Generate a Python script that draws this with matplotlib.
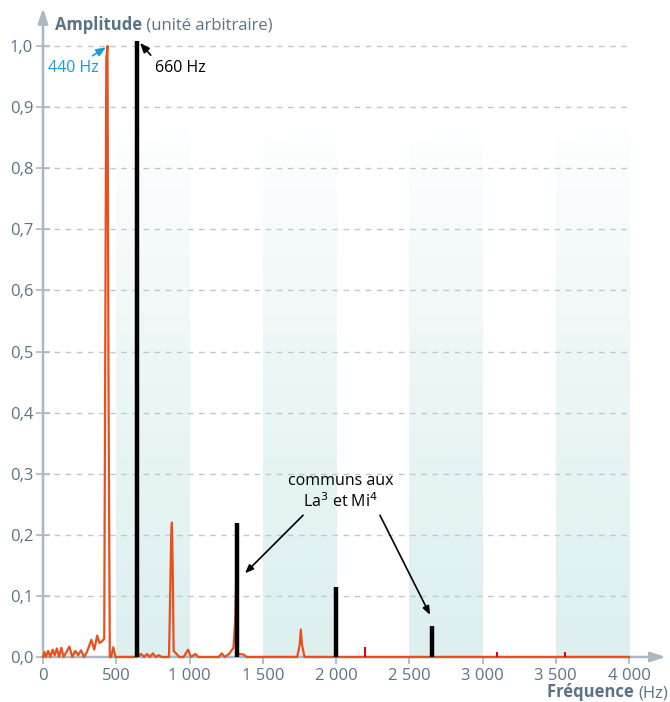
import numpy as np
import matplotlib
matplotlib.use("Agg")
import matplotlib.pyplot as plt

plt.rcParams['font.family'] = ['Open Sans', 'DejaVu Sans']

# spectre du La3 (courbe orange)
spec_freq = [0, 10, 20, 35, 50, 65, 80, 95, 110, 125, 140, 160, 180, 200, 220, 240,
             260, 280, 300, 330, 350, 370, 385, 400, 418, 425, 432, 440, 448, 456,
             465, 480, 495, 640, 670, 690, 710, 730, 750, 770, 790, 810, 860, 868,
             875, 880, 885, 892, 900, 930, 960, 990, 1010, 1040, 1060, 1200, 1220,
             1240, 1270, 1300, 1312, 1318, 1322, 1330, 1370, 1390, 1735, 1752, 1760,
             1768, 1785, 4000]
spec_amp = [0, 0.008, 0, 0.01, 0, 0.012, 0.003, 0.014, 0, 0.015, 0, 0.008, 0.017, 0,
            0.01, 0.003, 0.011, 0, 0.008, 0.028, 0.012, 0.035, 0.023, 0.025, 0.03,
            0.5, 0.98, 1.0, 0.4, 0.0, 0, 0.016, 0, 0, 0.005, 0, 0.005, 0, 0.006, 0,
            0.003, 0, 0, 0.1, 0.2, 0.22, 0.15, 0.01, 0.008, 0, 0, 0.012, 0, 0.005, 0,
            0, 0.006, 0, 0.005, 0.015, 0.06, 0.12, 0.08, 0.005, 0.004, 0, 0, 0.02,
            0.045, 0.02, 0, 0]

# harmoniques du Mi4 (barres noires)
bar_freq = [641, 1324, 2000, 2655]
bar_amp = [1.008, 0.22, 0.115, 0.05]

# petites raies rouges
red_freq = [2200, 3100, 3560]
red_amp = [0.017, 0.008, 0.008]

band_starts = [500, 1500, 2500, 3500]
band_width = 500

x_ticks = [0, 500, 1000, 1500, 2000, 2500, 3000, 3500, 4000]
x_labels = ["0", "500", "1 000", "1 500", "2 000", "2 500", "3 000", "3 500", "4 000"]
y_ticks = [0, 0.1, 0.2, 0.3, 0.4, 0.5, 0.6, 0.7, 0.8, 0.9, 1.0]
y_labels = ["0,0", "0,1", "0,2", "0,3", "0,4", "0,5", "0,6", "0,7", "0,8", "0,9", "1,0"]

axis_col = '#a9b8c2'
text_col = '#5b7384'
orange = '#e8501c'

fig = plt.figure(figsize=(6.7, 7.02), dpi=100)
ax = fig.add_axes([43 / 670, 45 / 702, 586 / 670, 1.03 * 611 / 702])

# bandes en degrade (fonce en bas, clair en haut)
band_top = 0.875
rgba = np.zeros((100, 1, 4))
rgba[..., 0] = 0.87
rgba[..., 1] = 0.94
rgba[..., 2] = 0.94
rgba[:, 0, 3] = np.linspace(1, 0, 100) ** 0.8
for b in band_starts:
    ax.imshow(rgba, extent=(b, b + band_width, 0, band_top), aspect='auto',
              origin='lower', zorder=0, interpolation='bilinear')
ax.set_xlim(0, 4000)
ax.set_ylim(0, 1.03)

for yv in y_ticks[1:]:
    ax.plot([0, 4000], [yv, yv], color='#b8cad8', lw=1, ls=(0, (4, 4)), zorder=1)

ax.plot(spec_freq, spec_amp, color=orange, lw=1.6, zorder=3, clip_on=False)
ax.vlines(bar_freq, 0, bar_amp, color='black', lw=3.2, zorder=4)
ax.vlines(red_freq, 0, red_amp, color='#e2001a', lw=1.5, zorder=4)

for s in ax.spines.values():
    s.set_visible(False)
ax.annotate('', xy=(4250, 0), xytext=(0, 0), annotation_clip=False,
            arrowprops=dict(arrowstyle='-|>,head_length=0.9,head_width=0.3',
                            color=axis_col, lw=1.8, shrinkA=0, shrinkB=0), zorder=2)
ax.annotate('', xy=(0, 1.062), xytext=(0, 0), annotation_clip=False,
            arrowprops=dict(arrowstyle='-|>,head_length=0.9,head_width=0.3',
                            color=axis_col, lw=1.8, shrinkA=0, shrinkB=0), zorder=2)

ax.set_xticks(x_ticks)
ax.set_xticklabels(x_labels)
ax.set_yticks(y_ticks)
ax.set_yticklabels(y_labels)
ax.tick_params(axis='x', direction='out', length=5, width=1.2, color=axis_col,
               labelcolor=text_col, labelsize=12, pad=3)
ax.tick_params(axis='y', direction='inout', length=10, width=1.2, color=axis_col,
               labelcolor=text_col, labelsize=12, pad=2)

# titres des axes
t1 = fig.text(55 / 670, 1 - 30 / 702, "Amplitude", color=text_col, fontsize=12,
              fontweight='bold', va='baseline')
ax.annotate(" (unité arbitraire)", xy=(1, 0), xycoords=t1, va='bottom',
            color=text_col, fontsize=12)
t2 = fig.text(668 / 670, 1 - 697 / 702, "(Hz)", color=text_col, fontsize=12,
              ha='right', va='baseline')
ax.annotate("Fréquence ", xy=(0, 0), xycoords=t2, va='bottom', ha='right',
            color=text_col, fontsize=12, fontweight='bold')

# annotations
ax.annotate("440 Hz", xy=(430, 0.998), xytext=(34, 0.964), color='#1a9ad6',
            fontsize=11.5, va='center', ha='left',
            arrowprops=dict(arrowstyle='-|>,head_length=0.5,head_width=0.2',
                            color='#1a9ad6', lw=1.2, shrinkA=2, shrinkB=0),
            annotation_clip=False)
ax.annotate("660 Hz", xy=(662, 1.005), xytext=(765, 0.964), color='black',
            fontsize=11.5, va='center', ha='left',
            arrowprops=dict(arrowstyle='-|>,head_length=0.5,head_width=0.2',
                            color='black', lw=1.2, shrinkA=2, shrinkB=0,
                            relpos=(0, 1)),
            annotation_clip=False)
ax.text(2034, 0.27, "communs aux\nLa$^3$ et Mi$^4$", ha='center', va='center',
        fontsize=11.5, color='black', linespacing=1.2)
ax.annotate("", xy=(1379, 0.137), xytext=(1775, 0.232),
            arrowprops=dict(arrowstyle='-|>,head_length=0.5,head_width=0.2',
                            color='black', lw=1.2, shrinkA=0, shrinkB=0))
ax.annotate("", xy=(2642, 0.069), xytext=(2300, 0.232),
            arrowprops=dict(arrowstyle='-|>,head_length=0.5,head_width=0.2',
                            color='black', lw=1.2, shrinkA=0, shrinkB=0))

fig.savefig("out.png", dpi=100)
